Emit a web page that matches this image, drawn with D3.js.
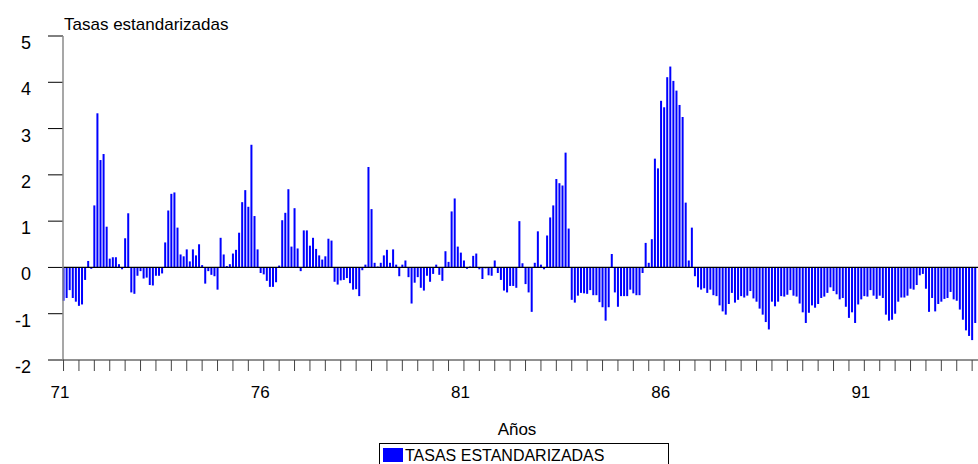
<!DOCTYPE html>
<html>
<head>
<meta charset="utf-8">
<script src="https://cdn.jsdelivr.net/npm/d3@7/dist/d3.min.js"></script>
<style>
  body { margin: 0; background: #fff; }
  svg { display: block; font-family: 'Liberation Sans', Arial, sans-serif; }
</style>
</head>
<body>
<svg id="chart" width="978" height="464"></svg>
<script>
// 13 periodos de 4 semanas por año, desde 1971
var startYear = 71;
var periodsPerYear = 13;

var tasas = [
  -0.72, -0.66, -0.49, -0.66, -0.74, -0.83, -0.80, -0.27, 0.14, -0.03, 1.34, 3.33, 2.32,   // 71
  2.45, 0.88, 0.19, 0.22, 0.22, 0.07, -0.04, 0.63, 1.17, -0.54, -0.57, -0.18, -0.08,     // 72
  -0.24, -0.22, -0.38, -0.39, -0.18, -0.18, -0.13, 0.54, 1.23, 1.59, 1.62, 0.86, 0.28,   // 73
  0.24, 0.39, 0.13, 0.39, 0.26, 0.50, 0.05, -0.35, -0.08, -0.16, -0.19, -0.48, 0.64,     // 74
  0.28, 0.03, 0.07, 0.30, 0.38, 0.75, 1.41, 1.67, 1.31, 2.65, 1.11, 0.39, -0.12,         // 75
  -0.15, -0.29, -0.42, -0.42, -0.32, 0.04, 1.02, 1.18, 1.69, 0.45, 1.28, 0.41, -0.08,    // 76
  0.80, 0.80, 0.47, 0.64, 0.40, 0.26, 0.17, 0.24, 0.62, 0.58, -0.31, -0.37, -0.28,       // 77
  -0.27, -0.23, -0.34, -0.48, -0.47, -0.62, -0.06, 0.06, 2.17, 1.26, 0.10, 0.02, 0.10,   // 78
  0.26, 0.38, 0.10, 0.39, 0.06, -0.19, 0.06, 0.15, -0.21, -0.78, -0.33, -0.21, -0.44,    // 79
  -0.50, -0.18, -0.31, -0.14, 0.06, -0.16, -0.29, 0.35, 0.12, 1.21, 1.49, 0.45, 0.32,    // 80
  0.15, -0.03, 0.02, 0.25, 0.30, -0.04, -0.25, -0.02, -0.17, -0.18, 0.15, -0.12, -0.27,  // 81
  -0.50, -0.54, -0.40, -0.40, -0.44, 1.00, 0.09, -0.36, -0.54, -0.96, 0.10, 0.78, 0.06,  // 82
  -0.04, 0.69, 1.08, 1.34, 1.91, 1.82, 1.77, 2.48, 0.84, -0.70, -0.76, -0.61, -0.55,     // 83
  -0.56, -0.57, -0.49, -0.60, -0.60, -0.75, -0.86, -1.15, -0.86, 0.29, -0.54, -0.85, -0.62, // 84
  -0.62, -0.62, -0.48, -0.56, -0.60, -0.60, -0.12, 0.53, 0.10, 0.61, 2.35, 2.14, 3.60,   // 85
  3.46, 4.11, 4.34, 4.03, 3.82, 3.51, 3.25, 1.40, 0.15, 0.86, -0.19, -0.43, -0.48,       // 86
  -0.45, -0.55, -0.48, -0.60, -0.62, -0.82, -0.95, -1.02, -0.79, -0.55, -0.76, -0.70, -0.62, // 87
  -0.65, -0.61, -0.51, -0.67, -0.74, -0.89, -1.02, -1.18, -1.34, -0.74, -0.84, -0.74, -0.62, // 88
  -0.63, -0.59, -0.49, -0.61, -0.63, -0.78, -0.97, -1.20, -0.98, -0.82, -0.87, -0.79, -0.66, // 89
  -0.63, -0.55, -0.43, -0.51, -0.58, -0.69, -0.66, -0.85, -1.09, -0.97, -1.20, -0.80, -0.69, // 90
  -0.62, -0.63, -0.49, -0.61, -0.68, -0.61, -0.66, -1.02, -1.15, -1.13, -1.00, -0.74, -0.65, // 91
  -0.65, -0.61, -0.46, -0.48, -0.38, -0.17, -0.14, -0.46, -0.96, -0.66, -0.95, -0.79, -0.74, // 92
  -0.68, -0.66, -0.53, -0.69, -0.72, -0.91, -1.13, -1.36, -1.48, -1.57, -1.20             // 93
];

var yTicks = [-2, -1, 0, 1, 2, 3, 4, 5];
var yearLabels = ['71', '76', '81', '86', '91'];

var titleText = 'Tasas estandarizadas';
var xTitle = 'Años';
var legendText = 'TASAS ESTANDARIZADAS';

(function draw() {

  var svg = d3.select('#chart'),
      left = 63, right = 978, top = 36, bottom = 360;

  var periods = tasas.map(function (d, i) { return i; });

  var x = d3.scaleBand()
      .domain(periods)
      .range([62, 62 + tasas.length * 3.08])
      .paddingInner(0.35)
      .paddingOuter(0.175);

  var y = d3.scaleLinear()
      .domain([-2, 5])
      .range([bottom, top]);

  function cx(i) { return x(i) + x.bandwidth() / 2; }

  // barras
  svg.append('g')
    .selectAll('rect')
    .data(tasas)
    .enter().append('rect')
      .attr('x', function (d, i) { return x(i); })
      .attr('y', function (d) { return y(Math.max(0, d)); })
      .attr('width', x.bandwidth())
      .attr('height', function (d) { return Math.abs(y(d) - y(0)); })
      .attr('fill', '#0000ff');

  // linea cero
  svg.append('line')
      .attr('x1', left).attr('x2', right)
      .attr('y1', y(0)).attr('y2', y(0))
      .attr('stroke', '#000')
      .attr('stroke-width', 1.2);

  // eje y
  var yAxis = svg.append('g');

  yAxis.selectAll('line.tick')
    .data(yTicks)
    .enter().append('line')
      .attr('class', 'tick')
      .attr('x1', 48).attr('x2', left)
      .attr('y1', function (d) { return y(d); })
      .attr('y2', function (d) { return y(d); })
      .attr('stroke', '#000');

  yAxis.selectAll('text')
    .data(yTicks)
    .enter().append('text')
      .attr('x', 31)
      .attr('y', function (d) { return y(d) + 13; })
      .attr('text-anchor', 'end')
      .attr('font-size', 18)
      .attr('fill', '#000')
      .text(function (d) { return d; });

  yAxis.append('line')
      .attr('x1', left).attr('x2', left)
      .attr('y1', top).attr('y2', bottom)
      .attr('stroke', '#8a8a8a')
      .attr('stroke-width', 1.5);

  // eje x
  var xAxis = svg.append('g');

  xAxis.append('line')
      .attr('x1', left).attr('x2', right)
      .attr('y1', bottom).attr('y2', bottom)
      .attr('stroke', '#222');

  xAxis.selectAll('line.tick')
    .data(periods.filter(function (i) { return i % 5 === 0; }))
    .enter().append('line')
      .attr('class', 'tick')
      .attr('x1', cx).attr('x2', cx)
      .attr('y1', bottom).attr('y2', bottom + 11)
      .attr('stroke', '#444');

  xAxis.selectAll('text')
    .data(yearLabels)
    .enter().append('text')
      .attr('x', function (d) { return cx((+d - startYear) * periodsPerYear) - 3.5; })
      .attr('y', 398)
      .attr('text-anchor', 'middle')
      .attr('font-size', 17)
      .attr('fill', '#000')
      .text(function (d) { return d; });

  // titulos
  svg.append('text')
      .attr('x', 64)
      .attr('y', 30)
      .attr('font-size', 17)
      .attr('fill', '#000')
      .text(titleText);

  svg.append('text')
      .attr('x', 517)
      .attr('y', 435)
      .attr('text-anchor', 'middle')
      .attr('font-size', 17)
      .attr('fill', '#000')
      .text(xTitle);

  // leyenda
  var legend = svg.append('g');

  legend.append('rect')
      .attr('x', 379.5)
      .attr('y', 443.5)
      .attr('width', 289)
      .attr('height', 30)
      .attr('fill', '#fff')
      .attr('stroke', '#000');

  legend.append('rect')
      .attr('x', 383)
      .attr('y', 448)
      .attr('width', 20)
      .attr('height', 14)
      .attr('fill', '#0000ff');

  legend.append('text')
      .attr('x', 405)
      .attr('y', 461)
      .attr('font-size', 16)
      .attr('fill', '#000')
      .text(legendText);
})();
</script>
</body>
</html>
